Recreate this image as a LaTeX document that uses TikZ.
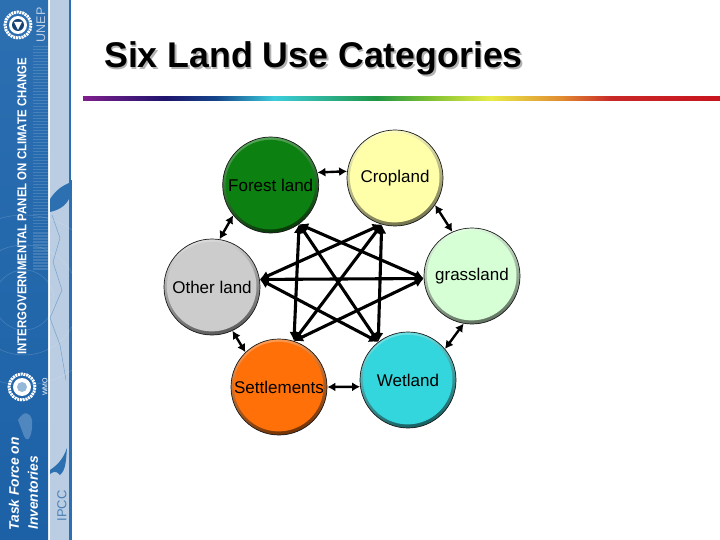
\documentclass[tikz,border=0pt]{standalone}
\usepackage{graphicx}
\usepackage{fontspec}
\setmainfont{Liberation Sans}
\usetikzlibrary{arrows.meta}
\definecolor{sideblue}{RGB}{44,112,178}
\definecolor{sidedark}{RGB}{28,96,166}
\definecolor{sidelight}{RGB}{186,205,226}
\definecolor{ringline}{RGB}{25,25,25}
\definecolor{forestc}{RGB}{12,128,16}
\definecolor{cropc}{RGB}{255,255,170}
\definecolor{grassc}{RGB}{214,255,214}
\definecolor{wetc}{RGB}{50,214,220}
\definecolor{settlec}{RGB}{255,112,8}
\definecolor{otherc}{RGB}{204,204,204}
\definecolor{rb1}{RGB}{128,30,140}
\definecolor{rb2}{RGB}{30,20,110}
\definecolor{rb3}{RGB}{20,70,140}
\definecolor{rb4}{RGB}{60,205,220}
\definecolor{rb5}{RGB}{30,150,70}
\definecolor{rb6}{RGB}{120,190,50}
\definecolor{rb7}{RGB}{232,236,70}
\definecolor{rb8}{RGB}{225,140,50}
\definecolor{rb9}{RGB}{200,40,40}
\definecolor{rb10}{RGB}{200,20,30}
\pgfdeclarehorizontalshading{rainbowbar}{100bp}{
 color(0bp)=(rb1); color(25bp)=(rb1); color(31.5bp)=(rb2); color(35.5bp)=(rb3);
 color(40bp)=(rb4); color(48bp)=(rb5); color(52bp)=(rb6); color(57bp)=(rb7);
 color(62.5bp)=(rb8); color(66.5bp)=(rb9); color(75bp)=(rb10); color(100bp)=(rb10)}
\tikzset{
 land/.style={circle,minimum size=96pt,inner sep=0pt,draw=ringline,line width=0.7pt,
   font=\fontsize{17}{19}\selectfont,text=black,
   top color=#1!70!white,bottom color=#1!45!black,shading angle=15,
   path picture={\fill[#1] (path picture bounding box.center)++(-0.3pt,0.4pt) circle (44.8pt);}},
 linkout/.style={<->,>={Latex[length=8pt,width=9pt]},line width=2.4pt,black},
 linkstar/.style={<->,>={Latex[length=9pt,width=10pt]},line width=3.1pt,black},
 sidetext/.style={rotate=90,text=white,inner sep=0pt},
 wreath/.style={white,line width=3pt,dash pattern=on 2pt off 0.8pt}
}
\begin{document}
\begin{tikzpicture}[x=1pt,y=-1pt]
\useasboundingbox (0,0) rectangle (720,540);
\fill[white] (0,0) rectangle (720,540);
% sidebar
\shade[top color=sideblue,bottom color=sidedark] (0,0) rectangle (48,540);
\fill[sidelight] (50,0) rectangle (69,540);
\fill[sideblue] (69,0) rectangle (70.5,180);
\fill[sideblue] (69,180) rectangle (72,540);
\foreach \yy in {46,49,...,268} \fill[white,opacity=0.14] (33,\yy) rectangle (48,\yy+1.5);
\draw[white,opacity=0.16,line width=0.6pt] (24,300) circle (30pt) (24,300) circle (55pt) (24,300) circle (85pt);
\fill[sideblue] (50,199) .. controls (56,190) and (62,186) .. (69,183) -- (70,196)
  .. controls (68,204) and (60,210) .. (50,212) -- cycle;
\fill[sideblue] (50,470) .. controls (56,466) and (63,460) .. (67,448)
  .. controls (66,460) and (66,470) .. (60,475) .. controls (56,470) and (53,472) .. (50,474) -- cycle;
\fill[sideblue!75!sidelight] (18,420) .. controls (24,410) and (30,412) .. (32,420)
  .. controls (33,435) and (28,445) .. (24,436) -- cycle;
\draw[sideblue!55!sidelight,line width=0.4pt] (52,215) -- (60,238) -- (53,262) -- (62,290) -- (50,318) -- (60,345) -- (66,380);
% emblems
\draw[wreath] (18,25) circle (13pt);
\fill[white] (18,25) circle (9pt);
\fill[sidedark!70!black] (18,25) circle (6pt);
\fill[white] (14,22) -- (22,22) -- (18,30) -- cycle;
\draw[wreath] (22,387) circle (13pt);
\fill[white] (22,387) circle (9pt);
\fill[sideblue!50!white] (22,387) circle (5pt);
% sidebar texts
\node[sidetext,font=\fontsize{12.8}{15}\selectfont\bfseries] (panel) at (22,206) {\scalebox{0.89}[1]{INTERGOVERNMENTAL PANEL ON CLIMATE CHANGE}};
\node[sidetext,font=\fontsize{12.5}{14}\selectfont,text=sidelight] (unep) at (41,25) {UNEP};
\node[sidetext,font=\fontsize{7}{8}\selectfont] (wmo) at (45,387) {WMO};
\node[sidetext,font=\fontsize{13}{14}\selectfont,text=sidedark!70!sidelight] (ipcc) at (62,506) {IPCC};
\node[sidetext,font=\fontsize{13.8}{15}\selectfont\bfseries\itshape] (tf1) at (14,484) {Task Force on};
\node[sidetext,font=\fontsize{13.8}{15}\selectfont\bfseries\itshape,anchor=west] (tf2) at (33,530) {Inventories};
% title and rule
\node[anchor=base west,inner sep=0pt,font=\fontsize{35.7}{38}\selectfont\bfseries] (title) at (104,68)
 {\rlap{\kern1.6pt\raisebox{-1.6pt}{\textcolor{black!30}{Six Land Use Categories}}}Six Land Use Categories};
\shade[shading=rainbowbar] (83,97) rectangle (720,101);
% circles
\node[land=forestc] (F) at (270.7,185) {Forest land};
\node[land=cropc] (C) at (395,178) {\raisebox{-2pt}{Cropland}};
\node[land=grassc] (G) at (472,276) {grassland};
\node[land=wetc] (W) at (408,380) {Wetland};
\node[land=settlec] (S) at (279,387) {Settlements};
\node[land=otherc] (O) at (212,287) {Other land};
% outer links
\draw[linkout] (F.15) -- (C.172);
\draw[linkout] (C.-34) -- (G.114);
\draw[linkout] (G.-100) -- (W.40);
\draw[linkout] (W.188) -- (S.0);
\draw[linkout] (S.134) -- (O.-65);
\draw[linkout] (O.81) -- (F.219);
% star links
\draw[linkstar] (F.-54) -- (G.183);
\draw[linkstar] (F.-54) -- (W.128);
\draw[linkstar] (F.-54) -- (S.72);
\draw[linkstar] (C.254) -- (O.9);
\draw[linkstar] (C.254) -- (S.72);
\draw[linkstar] (C.254) -- (W.128);
\draw[linkstar] (O.9) -- (G.183);
\draw[linkstar] (O.9) -- (W.128);
\draw[linkstar] (S.72) -- (G.183);
\end{tikzpicture}
\end{document}
